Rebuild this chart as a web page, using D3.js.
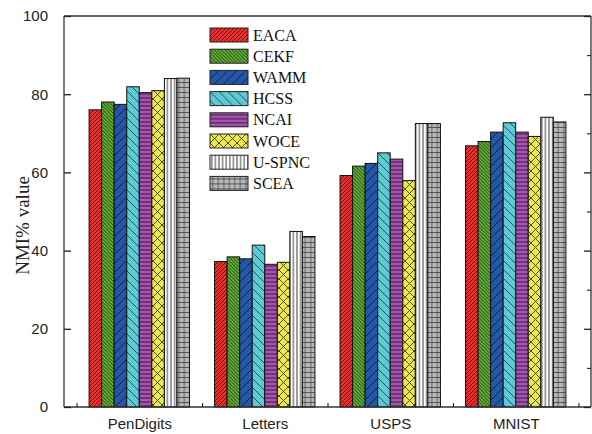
<!DOCTYPE html>
<html>
<head>
<meta charset="utf-8">
<script src="https://cdn.jsdelivr.net/npm/d3@7"></script>
<style>
  html, body { margin: 0; padding: 0; background: #fff; }
  svg { display: block; }
</style>
</head>
<body>
<svg id="chart" width="592" height="434"></svg>
<script>
// NMI (%) per dataset for each clustering-ensemble method
const datasets = ["PenDigits", "Letters", "USPS", "MNIST"];
const methods = ["EACA", "CEKF", "WAMM", "HCSS", "NCAI", "WOCE", "U-SPNC", "SCEA"];
const EACA   = [76.0, 37.2, 59.2, 66.8];
const CEKF   = [78.0, 38.4, 61.6, 67.9];
const WAMM   = [77.4, 37.9, 62.3, 70.3];
const HCSS   = [81.9, 41.4, 65.0, 72.7];
const NCAI   = [80.4, 36.5, 63.4, 70.3];
const WOCE   = [80.9, 37.0, 57.9, 69.2];
const USPNC  = [84.0, 44.9, 72.5, 74.1];
const SCEA   = [84.1, 43.6, 72.5, 72.9];
const seriesValues = [EACA, CEKF, WAMM, HCSS, NCAI, WOCE, USPNC, SCEA];
const yTicks = [0, 20, 40, 60, 80, 100];
const yLabel = "NMI% value";

// Fill colour and hatch style for each method
const styles = [
  { fill: "#f22b2b", kind: "diag",  dir: 1,  gap: 4, stroke: "#5a0a0a" },
  { fill: "#6cbd3c", kind: "diag",  dir: -1, gap: 3.5, stroke: "#1c4010" },
  { fill: "#2557a8", kind: "diag",  dir: 1,  gap: 9, stroke: "#0a1a40" },
  { fill: "#5ec9d3", kind: "diag",  dir: -1, gap: 9, stroke: "#1b4a52" },
  { fill: "#a655b2", kind: "horiz", gap: 4, stroke: "#3a1440" },
  { fill: "#eee94a", kind: "cross", gap: 9, stroke: "#3a3a10" },
  { fill: "#ffffff", kind: "vert",  gap: 3.6, stroke: "#222" },
  { fill: "#b8b8b8", kind: "grid",  gap: 5, stroke: "#444" }
];

const svg = d3.select("#chart");
const W = 592, H = 434;
const margin = { left: 64, right: 1, top: 16, bottom: 27 };
const plotBottom = H - margin.bottom;

// Continuous x scale: dataset i sits at position i+1
const x = d3.scaleLinear().domain([0.4, 4.6]).range([margin.left, W - margin.right]);
const y = d3.scaleLinear().domain([0, 100]).range([plotBottom, margin.top]);
const barW = 0.1;

// Hatch patterns
const defs = svg.append("defs");
styles.forEach((s, i) => {
  const g = s.gap;
  const p = defs.append("pattern")
    .attr("id", "pat" + i)
    .attr("patternUnits", "userSpaceOnUse");
  if (s.kind === "diag") {
    p.attr("width", g).attr("height", g);
    p.append("rect").attr("width", g).attr("height", g).attr("fill", s.fill);
    const pts = s.dir > 0
      ? [[-1, g + 1, g + 1, -1], [g - 1, g + 1, g + 1, g - 1], [-1, 1, 1, -1]]
      : [[-1, -1, g + 1, g + 1], [g - 1, -1, g + 1, 1], [-1, g - 1, 1, g + 1]];
    pts.forEach(d => p.append("line")
      .attr("x1", d[0]).attr("y1", d[1]).attr("x2", d[2]).attr("y2", d[3])
      .attr("stroke", s.stroke).attr("stroke-width", 0.9));
  } else if (s.kind === "horiz") {
    p.attr("width", 10).attr("height", g);
    p.append("rect").attr("width", 10).attr("height", g).attr("fill", s.fill);
    p.append("line").attr("x1", 0).attr("x2", 10).attr("y1", g / 2).attr("y2", g / 2)
      .attr("stroke", s.stroke).attr("stroke-width", 1);
  } else if (s.kind === "vert") {
    p.attr("width", g).attr("height", 10);
    p.append("rect").attr("width", g).attr("height", 10).attr("fill", s.fill);
    p.append("line").attr("y1", 0).attr("y2", 10).attr("x1", g / 2).attr("x2", g / 2)
      .attr("stroke", s.stroke).attr("stroke-width", 0.9);
  } else if (s.kind === "cross") {
    p.attr("width", g).attr("height", g);
    p.append("rect").attr("width", g).attr("height", g).attr("fill", s.fill);
    [[0, 0, g, g], [0, g, g, 0]].forEach(d => p.append("line")
      .attr("x1", d[0]).attr("y1", d[1]).attr("x2", d[2]).attr("y2", d[3])
      .attr("stroke", s.stroke).attr("stroke-width", 0.9));
  } else if (s.kind === "grid") {
    const cw = 5.5;
    p.attr("width", cw).attr("height", g);
    p.append("rect").attr("width", cw).attr("height", g).attr("fill", s.fill);
    p.append("line").attr("x1", 0).attr("x2", cw).attr("y1", g / 2).attr("y2", g / 2)
      .attr("stroke", s.stroke).attr("stroke-width", 0.8);
    p.append("line").attr("y1", 0).attr("y2", g).attr("x1", cw / 2).attr("x2", cw / 2)
      .attr("stroke", s.stroke).attr("stroke-width", 0.8);
  }
});

// Bars
const barData = [];
seriesValues.forEach((vals, si) => {
  vals.forEach((v, di) => barData.push({ si, di, v }));
});
svg.append("g").selectAll("rect")
  .data(barData)
  .join("rect")
  .attr("x", d => x(d.di + 1 - 0.4 + d.si * barW))
  .attr("width", d => x(d.di + 1 - 0.4 + (d.si + 1) * barW) - x(d.di + 1 - 0.4 + d.si * barW))
  .attr("y", d => y(d.v))
  .attr("height", d => y(0) - y(d.v))
  .attr("fill", d => `url(#pat${d.si})`)
  .attr("stroke", "#111")
  .attr("stroke-width", 1);

// Frame and axes
const axisFont = "'Liberation Sans', Arial, sans-serif";
const frame = svg.append("g").attr("stroke", "#333").attr("fill", "none").attr("stroke-width", 1.3);
frame.append("line").attr("x1", x(0.4)).attr("x2", x(4.6)).attr("y1", y(100)).attr("y2", y(100));
frame.append("line").attr("x1", x(0.4)).attr("x2", x(0.4)).attr("y1", y(0)).attr("y2", y(100));
frame.append("line").attr("x1", x(4.6)).attr("x2", x(4.6)).attr("y1", y(0)).attr("y2", y(100));
frame.append("line").attr("x1", x(0.4)).attr("x2", x(4.6)).attr("y1", y(0)).attr("y2", y(0));

// Left axis: inward ticks with labels
const leftAxis = d3.axisLeft(y).tickValues(yTicks).tickSizeInner(-7).tickSizeOuter(0).tickPadding(16);
const gl = svg.append("g").attr("transform", `translate(${x(0.4)},0)`).call(leftAxis);
gl.select(".domain").remove();
gl.selectAll(".tick line").attr("stroke", "#222").attr("stroke-width", 1.3);
gl.selectAll(".tick text").attr("font-family", axisFont).attr("font-size", 15).attr("fill", "#222");

// Right axis: inward major and minor ticks, no labels
const rightMajor = d3.axisRight(y).tickValues(yTicks).tickSizeInner(-7).tickSizeOuter(0).tickFormat("");
const gr = svg.append("g").attr("transform", `translate(${x(4.6)},0)`).call(rightMajor);
gr.select(".domain").remove();
gr.selectAll(".tick line").attr("stroke", "#222").attr("stroke-width", 1.3);
const rightMinor = d3.axisRight(y).tickValues([10, 30, 50, 70, 90]).tickSizeInner(-4).tickSizeOuter(0).tickFormat("");
const grm = svg.append("g").attr("transform", `translate(${x(4.6)},0)`).call(rightMinor);
grm.select(".domain").remove();
grm.selectAll(".tick line").attr("stroke", "#222").attr("stroke-width", 1.1);

// Bottom axis: minor ticks between groups, labels at group centres
const bottomMinor = d3.axisBottom(x).tickValues([0.5, 1.5, 2.5, 3.5, 4.5]).tickSizeInner(-4).tickSizeOuter(0).tickFormat("");
const gbm = svg.append("g").attr("transform", `translate(0,${y(0)})`).call(bottomMinor);
gbm.select(".domain").remove();
gbm.selectAll(".tick line").attr("stroke", "#222").attr("stroke-width", 1.1);

const bottomAxis = d3.axisBottom(x).tickValues([1, 2, 3, 4]).tickSize(0).tickPadding(11)
  .tickFormat(d => datasets[d - 1]);
const gb = svg.append("g").attr("transform", `translate(0,${y(0)})`).call(bottomAxis);
gb.select(".domain").remove();
gb.selectAll(".tick text").attr("font-family", axisFont).attr("font-size", 15).attr("fill", "#222");

// Y axis title
svg.append("text")
  .attr("transform", `translate(29,${(y(0) + y(100)) / 2 + 14}) rotate(-90)`)
  .attr("text-anchor", "middle")
  .attr("font-family", "'Liberation Serif', 'Times New Roman', serif")
  .attr("font-size", 19)
  .attr("fill", "#222")
  .text(yLabel);

// Legend
const legend = svg.append("g").attr("transform", "translate(210,28)");
methods.forEach((m, i) => {
  const row = legend.append("g").attr("transform", `translate(0,${i * 21.2})`);
  row.append("rect").attr("width", 38).attr("height", 14)
    .attr("fill", `url(#pat${i})`).attr("stroke", "#222").attr("stroke-width", 1);
  row.append("text").attr("x", 43).attr("y", 7).attr("dy", "0.35em")
    .attr("font-family", "'Liberation Serif', 'Times New Roman', serif")
    .attr("font-size", 16).attr("fill", "#111")
    .text(m);
});
</script>
</body>
</html>
